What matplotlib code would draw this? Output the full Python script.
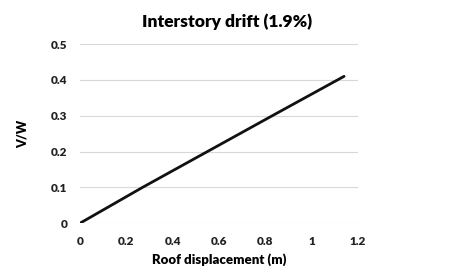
import matplotlib
matplotlib.use("Agg")
import matplotlib.pyplot as plt

disp = [0.0, 0.27, 0.55, 0.83, 1.14]
vw = [0.0, 0.10, 0.20, 0.30, 0.41]
xticks = [0, 0.2, 0.4, 0.6, 0.8, 1, 1.2]
xticklabels = ["0", "0.2", "0.4", "0.6", "0.8", "1", "1.2"]
yticks = [0, 0.1, 0.2, 0.3, 0.4, 0.5]
yticklabels = ["0", "0.1", "0.2", "0.3", "0.4", "0.5"]

plt.rcParams['font.family'] = ['Lato', 'DejaVu Sans']
fig = plt.figure(figsize=(4.52, 2.79), dpi=100)
ax = fig.add_axes([0.177, 0.200, 0.615, 0.642])
ax.plot(disp, vw, color='#111111', lw=2.0, solid_capstyle='round')
ax.set_xlim(0, 1.2)
ax.set_ylim(0, 0.5)
ax.set_xticks(xticks)
ax.set_xticklabels(xticklabels)
ax.set_yticks(yticks)
ax.set_yticklabels(yticklabels)
ax.grid(axis='y', color='#d8d8d8', lw=0.8)
ax.set_axisbelow(True)
for s in ax.spines.values():
    s.set_visible(False)
ax.tick_params(length=0, labelsize=8.5, colors='#222222', pad=9)
for lab in ax.get_xticklabels() + ax.get_yticklabels():
    lab.set_fontweight('heavy')
ax.set_title('Interstory drift (1.9%)', fontsize=12.5, fontweight='heavy', pad=12, x=0.53)
ax.set_xlabel('Roof displacement (m)', fontsize=9.5, fontweight='heavy', labelpad=5)
ax.set_ylabel('V/W', fontsize=9, fontweight='heavy', labelpad=16)
fig.savefig('out.png', dpi=100, facecolor='white')
